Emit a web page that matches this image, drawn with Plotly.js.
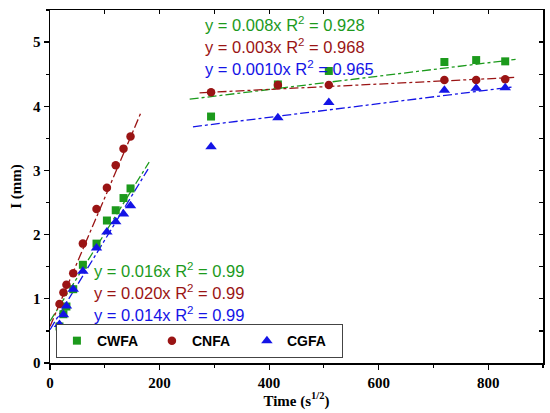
<!DOCTYPE html>
<html>
<head>
<meta charset="utf-8">
<script src="https://cdn.plot.ly/plotly-3.0.1.min.js"></script>
<style>html,body{margin:0;padding:0;background:#fff;}#chart{width:550px;height:413px;}</style>
</head>
<body>
<div id="chart"></div>
<script>
// sqrt(time) values
var timeX = [17.3, 24.5, 30, 42.4, 60, 84.9, 103.9, 120, 134.2, 147, 294, 416, 509, 720, 778, 831];
var cwfa = [0.57, 0.76, 0.88, 1.15, 1.53, 1.86, 2.22, 2.38, 2.57, 2.72, 3.84, 4.34, 4.55, 4.69, 4.72, 4.70];
var cnfa = [0.92, 1.10, 1.22, 1.40, 1.86, 2.40, 2.73, 3.08, 3.34, 3.53, 4.22, 4.33, 4.33, 4.41, 4.41, 4.42];
var cgfa = [0.60, 0.75, 0.89, 1.15, 1.43, 1.79, 2.04, 2.20, 2.32, 2.45, 3.37, 3.82, 4.06, 4.25, 4.28, 4.29];

// fitted line end points
var fitEarlyX = {cwfa: [0, 181], cnfa: [0, 166], cgfa: [0, 179]};
var fitEarlyY = {cwfa: [0.65, 3.13], cnfa: [0.57, 3.90], cgfa: [0.52, 3.02]};
var fitLateX = {cwfa: [255, 850], cnfa: [273, 850], cgfa: [261, 844]};
var fitLateY = {cwfa: [4.11, 4.73], cnfa: [4.21, 4.45], cgfa: [3.68, 4.30]};

var names = ['CWFA', 'CNFA', 'CGFA'];
var keys = ['cwfa', 'cnfa', 'cgfa'];
var seriesY = [cwfa, cnfa, cgfa];
var eqEarly = ['y = 0.016x R<sup>2</sup> = 0.99', 'y = 0.020x R<sup>2</sup> = 0.99', 'y = 0.014x R<sup>2</sup> = 0.99'];
var eqLate = ['y = 0.008x R<sup>2</sup> = 0.928', 'y = 0.003x R<sup>2</sup> = 0.968', 'y = 0.0010x R<sup>2</sup> = 0.965'];

var colors = ['#1c9a1c', '#9a1414', '#1414e6'];
var symbols = ['square', 'circle', 'triangle-up'];
var msize = [8, 8.5, 10];

var traces = [];
for (var i = 0; i < 3; i++) {
  traces.push({x: fitEarlyX[keys[i]], y: fitEarlyY[keys[i]], mode: 'lines', showlegend: false, hoverinfo: 'skip',
    line: {color: colors[i], width: 1.3, dash: 'dashdot'}});
  traces.push({x: fitLateX[keys[i]], y: fitLateY[keys[i]], mode: 'lines', showlegend: false, hoverinfo: 'skip',
    line: {color: colors[i], width: 1.3, dash: 'dashdot'}});
}
for (var i = 0; i < 3; i++) {
  traces.push({x: timeX, y: seriesY[i], mode: 'markers', name: names[i],
    marker: {color: colors[i], symbol: symbols[i], size: msize[i]}});
}
traces.push({x: [null], y: [null], xaxis: 'x2', yaxis: 'y2', showlegend: false, hoverinfo: 'skip', mode: 'markers'});

var annotations = [];
for (var i = 0; i < 3; i++) {
  annotations.push({xref: 'paper', yref: 'paper', x: (92 - 50) / 492.7, y: (363 - (270 + 22 * i)) / 353,
    xanchor: 'left', yanchor: 'middle', showarrow: false, text: eqEarly[i],
    font: {family: 'Liberation Sans, Arial, sans-serif', size: 16.5, color: colors[i]}});
  annotations.push({xref: 'paper', yref: 'paper', x: (203 - 50) / 492.7, y: (363 - (24 + 22 * i)) / 353,
    xanchor: 'left', yanchor: 'middle', showarrow: false, text: eqLate[i],
    font: {family: 'Liberation Sans, Arial, sans-serif', size: 16.5, color: colors[i]}});
}

var tickFont = {family: 'Liberation Serif, Times New Roman, serif', size: 15, color: '#000', weight: 'bold'};

var layout = {
  width: 550, height: 413,
  margin: {l: 50, r: 7, t: 10, b: 50},
  paper_bgcolor: '#fff', plot_bgcolor: '#fff',
  showlegend: true,
  legend: {orientation: 'h', x: 0.012, y: 0.014, xanchor: 'left', yanchor: 'bottom',
    bordercolor: '#444', borderwidth: 1, bgcolor: '#fff', entrywidth: 50, entrywidthmode: 'pixels',
    font: {family: 'Liberation Sans, Arial, sans-serif', size: 14, color: '#000', weight: 'bold'},
    itemsizing: 'trace', tracegroupgap: 0},
  xaxis: {range: [0, 900], dtick: 200, tick0: 0, ticks: 'outside', ticklen: 5, tickwidth: 1.2, tickcolor: '#000',
    minor: {dtick: 100, ticks: 'outside', ticklen: 3, tickwidth: 1.2, tickcolor: '#000'},
    showline: true, linecolor: '#000', linewidth: 1.5, showgrid: false, zeroline: false,
    tickfont: tickFont,
    title: {text: 'Time (s<sup>1/2</sup>)', font: tickFont, standoff: 0}},
  yaxis: {range: [0, 5.5], dtick: 1, tick0: 0, ticks: 'outside', ticklen: 5, tickwidth: 1.2, tickcolor: '#000',
    minor: {dtick: 0.5, ticks: 'outside', ticklen: 3, tickwidth: 1.2, tickcolor: '#000'},
    showline: true, linecolor: '#000', linewidth: 1.5, showgrid: false, zeroline: false,
    tickfont: tickFont,
    title: {text: 'I (mm)', font: tickFont, standoff: 8}},
  xaxis2: {overlaying: 'x', side: 'top', range: [0, 900], dtick: 100, ticks: 'inside', ticklen: 4, tickwidth: 1.2,
    tickcolor: '#000', showticklabels: false, showline: true, linecolor: '#000', linewidth: 1.5,
    showgrid: false, zeroline: false},
  yaxis2: {overlaying: 'y', side: 'right', range: [0, 5.5], dtick: 0.5, ticks: 'inside', ticklen: 4, tickwidth: 1.2,
    tickcolor: '#000', showticklabels: false, showline: true, linecolor: '#000', linewidth: 1.5,
    showgrid: false, zeroline: false},
  annotations: annotations
};

Plotly.newPlot('chart', traces, layout, {displayModeBar: false, staticPlot: true});
</script>
</body>
</html>
